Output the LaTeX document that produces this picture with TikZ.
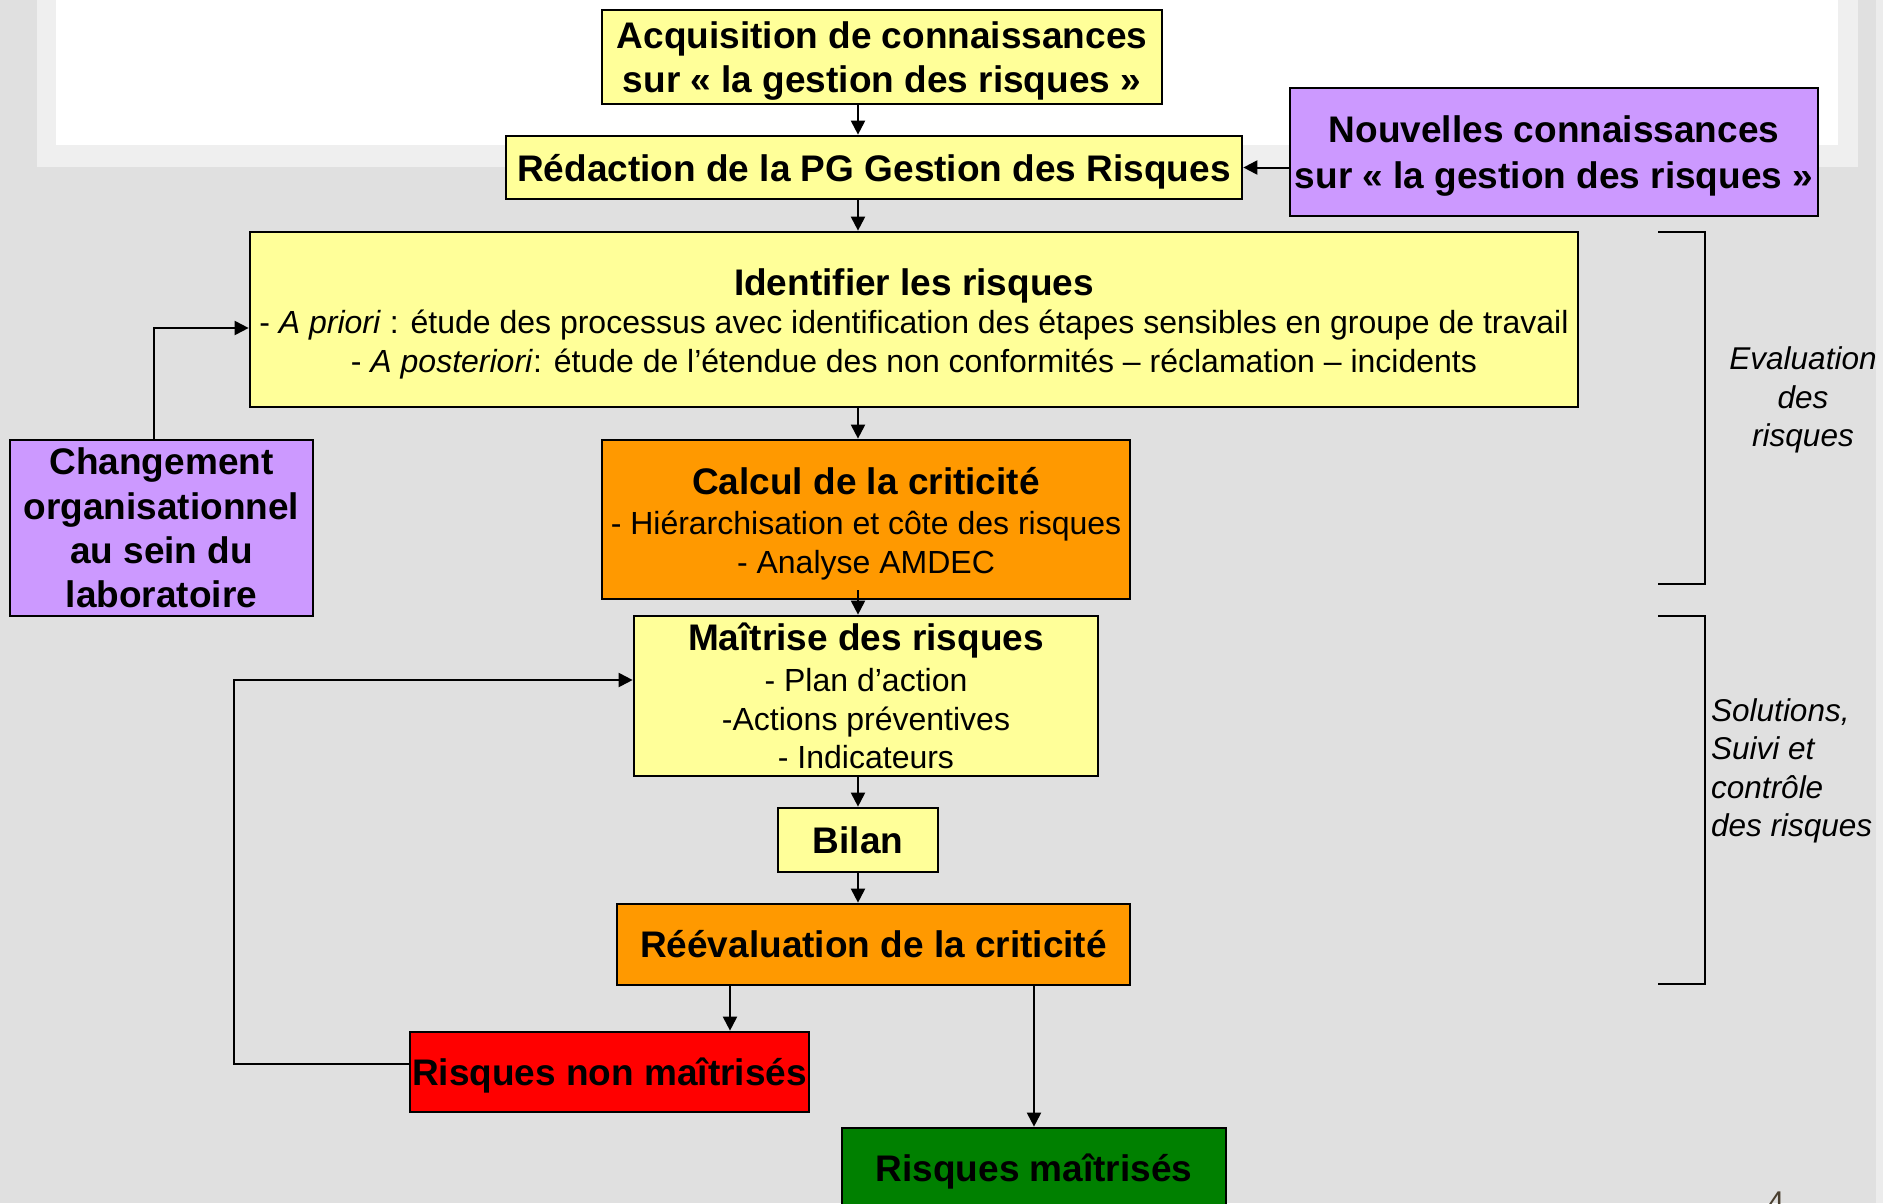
\documentclass[tikz,border=0pt]{standalone}
\usepackage{fontspec}
\setmainfont{Liberation Sans}
\usetikzlibrary{arrows.meta,calc}
\definecolor{bg}{HTML}{E0E0E0}
\definecolor{framecol}{HTML}{EFEFEF}
\definecolor{yel}{HTML}{FFFF99}
\definecolor{pur}{HTML}{CC99FF}
\definecolor{ora}{HTML}{FF9900}
\definecolor{redc}{HTML}{FF0000}
\definecolor{grn}{HTML}{008000}
\definecolor{pgnum}{HTML}{4A3F30}
\newcommand\boxtitlefont{\fontsize{37}{44.4}\selectfont\bfseries}
\newcommand\boxsubfont{\fontsize{32}{38.4}\selectfont}
\newcommand\tst{\rule{0pt}{35pt}}
\tikzset{
  box/.style={draw=black, line width=2.7pt, inner sep=0pt, align=center, font=\boxtitlefont},
  subbox/.style={box, font=\boxsubfont},
  arr/.style={line width=2pt, -{Triangle[length=14pt,width=14pt]}},
  brk/.style={line width=2pt},
  side/.style={inner sep=0pt, font=\fontsize{31.5}{38.4}\selectfont\itshape}
}
\begin{document}
\begin{tikzpicture}[x=1pt,y=-1pt]
\fill[bg] (0,0) rectangle (1883,1203);
\useasboundingbox (0,0) rectangle (1883,1203);
\fill[framecol] (37,0) rectangle (1858,167);
\fill[white] (56,0) rectangle (1838,145);
\fill[bg!60!white] (1876,0) rectangle (1883,1203);

% nodes
\node[box, fill=yel, minimum width=560, minimum height=94] (acq) at (882,57)
  {\tst Acquisition de connaissances\\sur « la gestion des risques »};
\node[box, fill=yel, minimum width=736, minimum height=63] (red) at (874,167.5)
  {\tst Rédaction de la PG Gestion des Risques};
\node[box, fill=pur, minimum width=528, minimum height=128] (nouv) at (1554,152)
  {\tst Nouvelles connaissances\\[1pt]sur « la gestion des risques »};
\node[subbox, fill=yel, minimum width=1328, minimum height=175] (ident) at (914,319.5)
  {\tst{\boxtitlefont Identifier les risques}\\
   - \textit{A priori} : étude des processus avec identification des étapes sensibles en groupe de travail\\
   - \textit{A posteriori}: étude de l’étendue des non conformités – réclamation – incidents};
\node[box, fill=pur, minimum width=303, minimum height=176] (chg) at (161.5,528)
  {Changement\\organisationnel\\au sein du\\laboratoire};
\node[subbox, fill=ora, minimum width=528, minimum height=159] (calc) at (866,519.5)
  {\tst{\boxtitlefont Calcul de la criticité}\\[2pt]
   - Hiérarchisation et côte des risques\\
   - Analyse AMDEC};
\node[subbox, fill=yel, minimum width=464, minimum height=160] (mait) at (866,696)
  {{\boxtitlefont Maîtrise des risques}\\[3pt]
   - Plan d’action\\
   -Actions préventives\\
   - Indicateurs};
\node[box, fill=yel, minimum width=160, minimum height=64] (bilan) at (858,840) {Bilan};
\node[box, fill=ora, minimum width=513, minimum height=81] (reev) at (873.5,944.5)
  {Réévaluation de la criticité};
\node[box, fill=redc, minimum width=399, minimum height=80] (rnm) at (609.5,1072)
  {\tst Risques non maîtrisés};
\node[box, fill=grn, minimum width=384, minimum height=80] (rm) at (1034,1168)
  {\tst Risques maîtrisés};

% side labels
\node[side, align=center] (evl) at (1803,400) {Evaluation\\des\\risques};
\node[side, align=left, anchor=west] (sol) at (1711,771) {Solutions,\\Suivi et\\contrôle\\des risques};
\node[inner sep=0pt, anchor=north, text=pgnum, font=\fontsize{30}{36}\selectfont] (pg) at (1776,1192) {4};

% brackets
\draw[brk] (1658,232) -- (1705,232) -- (1705,584) -- (1658,584);
\draw[brk] (1658,616) -- (1705,616) -- (1705,984) -- (1658,984);

% connectors
\coordinate (ax) at (858,0);
\coordinate (b1) at (730,0);
\coordinate (cc) at (154,328);
\coordinate (lp) at (234,1064);
\coordinate (lq) at (0,680);
\draw[arr] (acq.south -| ax) -- (red.north -| ax);
\draw[arr] (nouv.west |- red.east) -- (red.east);
\draw[arr] (red.south -| ax) -- (ident.north -| ax);
\draw[arr] (ident.south -| ax) -- (calc.north -| ax);
\draw[arr] ($(calc.south -| ax)+(0,-10)$) -- (mait.north -| ax);
\draw[arr] (mait.south -| ax) -- (bilan.north -| ax);
\draw[arr] (bilan.south -| ax) -- (reev.north -| ax);
\draw[arr] (reev.south -| b1) -- (rnm.north -| b1);
\draw[arr] (reev.south -| rm.north) -- (rm.north);
\draw[arr] (rnm.west |- lp) -- (lp) |- (mait.west |- lq);
\draw[arr] (chg.north -| cc) |- (ident.west |- cc);
\end{tikzpicture}
\end{document}
